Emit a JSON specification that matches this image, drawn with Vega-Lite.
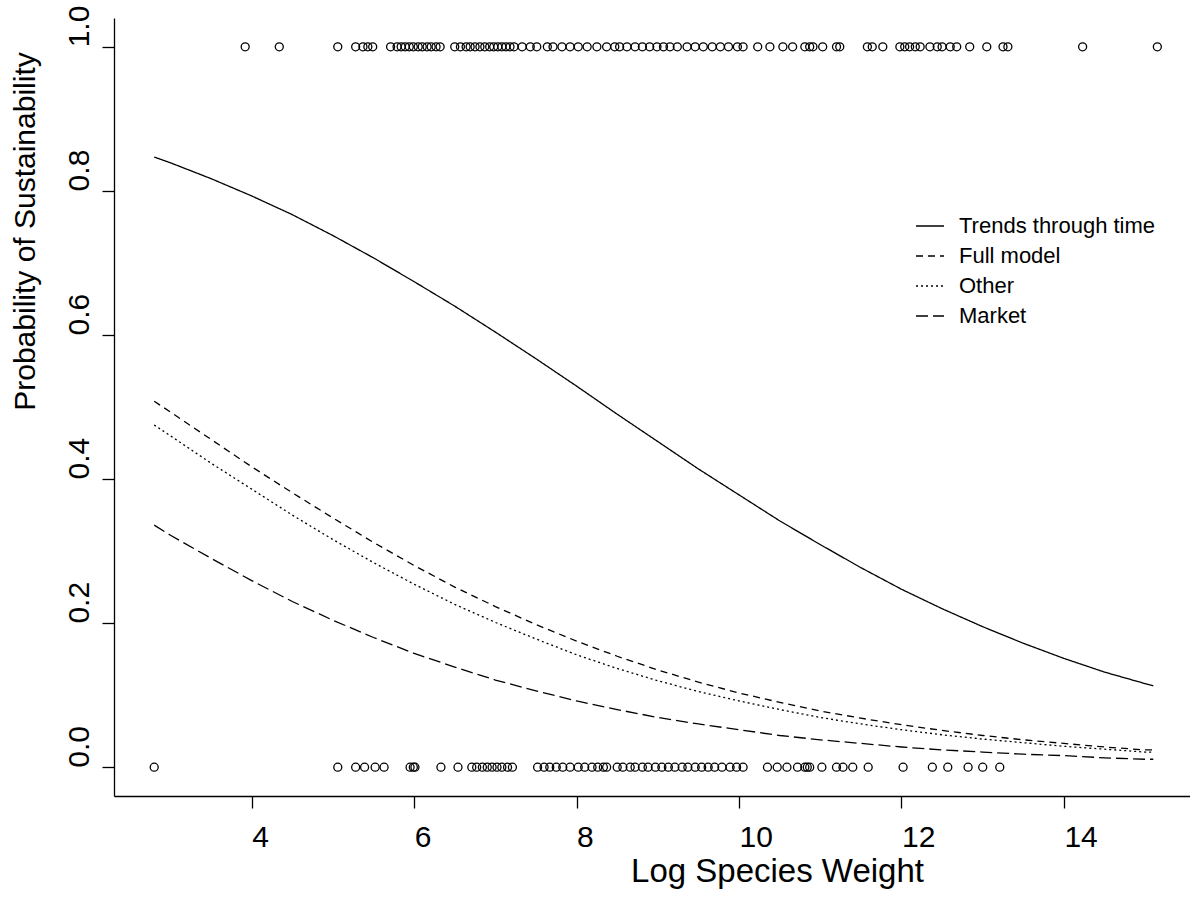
{
  "$schema": "https://vega.github.io/schema/vega-lite/v6.json",
  "width": 1076,
  "height": 778,
  "autosize": "none",
  "padding": {"left": 114, "top": 18, "right": 0, "bottom": 115},
  "background": "white",
  "config": {
    "view": {"stroke": null},
    "font": "Liberation Sans",
    "axis": {
      "domainColor": "black", "domainWidth": 1.3, "tickColor": "black", "tickWidth": 1.3, "tickSize": 12,
      "labelFont": "Liberation Sans", "labelFontSize": 30, "labelColor": "black",
      "titleFont": "Liberation Sans", "titleFontSize": 30, "titleFontWeight": "normal", "titleColor": "black",
      "grid": false, "labelFlush": false, "labelOverlap": false
    }
  },
  "datasets": {
    "obs": [
      {"weight": 3.92, "prob": 1}, {"weight": 4.34, "prob": 1}, {"weight": 5.06, "prob": 1}, {"weight": 5.28, "prob": 1}, {"weight": 5.37, "prob": 1}, {"weight": 5.43, "prob": 1}, {"weight": 5.49, "prob": 1}, {"weight": 5.71, "prob": 1}, {"weight": 5.79, "prob": 1}, {"weight": 5.84, "prob": 1}, {"weight": 5.89, "prob": 1}, {"weight": 5.94, "prob": 1}, {"weight": 5.99, "prob": 1}, {"weight": 6.05, "prob": 1}, {"weight": 6.10, "prob": 1}, {"weight": 6.16, "prob": 1}, {"weight": 6.21, "prob": 1}, {"weight": 6.27, "prob": 1}, {"weight": 6.32, "prob": 1}, {"weight": 6.50, "prob": 1}, {"weight": 6.57, "prob": 1}, {"weight": 6.64, "prob": 1}, {"weight": 6.69, "prob": 1}, {"weight": 6.75, "prob": 1}, {"weight": 6.81, "prob": 1}, {"weight": 6.87, "prob": 1}, {"weight": 6.93, "prob": 1}, {"weight": 6.98, "prob": 1}, {"weight": 7.03, "prob": 1}, {"weight": 7.08, "prob": 1}, {"weight": 7.13, "prob": 1}, {"weight": 7.18, "prob": 1}, {"weight": 7.23, "prob": 1}, {"weight": 7.33, "prob": 1}, {"weight": 7.43, "prob": 1}, {"weight": 7.51, "prob": 1}, {"weight": 7.64, "prob": 1}, {"weight": 7.71, "prob": 1}, {"weight": 7.82, "prob": 1}, {"weight": 7.92, "prob": 1}, {"weight": 8.02, "prob": 1}, {"weight": 8.13, "prob": 1}, {"weight": 8.25, "prob": 1}, {"weight": 8.37, "prob": 1}, {"weight": 8.47, "prob": 1}, {"weight": 8.53, "prob": 1}, {"weight": 8.62, "prob": 1}, {"weight": 8.72, "prob": 1}, {"weight": 8.81, "prob": 1}, {"weight": 8.90, "prob": 1}, {"weight": 8.99, "prob": 1}, {"weight": 9.07, "prob": 1}, {"weight": 9.15, "prob": 1}, {"weight": 9.24, "prob": 1}, {"weight": 9.36, "prob": 1}, {"weight": 9.46, "prob": 1}, {"weight": 9.56, "prob": 1}, {"weight": 9.67, "prob": 1}, {"weight": 9.77, "prob": 1}, {"weight": 9.87, "prob": 1}, {"weight": 9.98, "prob": 1}, {"weight": 10.05, "prob": 1}, {"weight": 10.23, "prob": 1}, {"weight": 10.38, "prob": 1}, {"weight": 10.54, "prob": 1}, {"weight": 10.66, "prob": 1}, {"weight": 10.81, "prob": 1}, {"weight": 10.87, "prob": 1}, {"weight": 10.91, "prob": 1}, {"weight": 11.03, "prob": 1}, {"weight": 11.20, "prob": 1}, {"weight": 11.24, "prob": 1}, {"weight": 11.58, "prob": 1}, {"weight": 11.64, "prob": 1}, {"weight": 11.77, "prob": 1}, {"weight": 11.98, "prob": 1}, {"weight": 12.04, "prob": 1}, {"weight": 12.10, "prob": 1}, {"weight": 12.17, "prob": 1}, {"weight": 12.23, "prob": 1}, {"weight": 12.35, "prob": 1}, {"weight": 12.44, "prob": 1}, {"weight": 12.50, "prob": 1}, {"weight": 12.60, "prob": 1}, {"weight": 12.68, "prob": 1}, {"weight": 12.84, "prob": 1}, {"weight": 13.05, "prob": 1}, {"weight": 13.25, "prob": 1}, {"weight": 13.31, "prob": 1}, {"weight": 14.23, "prob": 1}, {"weight": 15.15, "prob": 1},
      {"weight": 2.80, "prob": 0}, {"weight": 5.06, "prob": 0}, {"weight": 5.28, "prob": 0}, {"weight": 5.39, "prob": 0}, {"weight": 5.52, "prob": 0}, {"weight": 5.63, "prob": 0}, {"weight": 5.95, "prob": 0}, {"weight": 5.99, "prob": 0}, {"weight": 6.01, "prob": 0}, {"weight": 6.33, "prob": 0}, {"weight": 6.54, "prob": 0}, {"weight": 6.71, "prob": 0}, {"weight": 6.77, "prob": 0}, {"weight": 6.84, "prob": 0}, {"weight": 6.90, "prob": 0}, {"weight": 6.96, "prob": 0}, {"weight": 7.02, "prob": 0}, {"weight": 7.08, "prob": 0}, {"weight": 7.15, "prob": 0}, {"weight": 7.21, "prob": 0}, {"weight": 7.52, "prob": 0}, {"weight": 7.60, "prob": 0}, {"weight": 7.67, "prob": 0}, {"weight": 7.75, "prob": 0}, {"weight": 7.83, "prob": 0}, {"weight": 7.92, "prob": 0}, {"weight": 8.02, "prob": 0}, {"weight": 8.10, "prob": 0}, {"weight": 8.19, "prob": 0}, {"weight": 8.26, "prob": 0}, {"weight": 8.33, "prob": 0}, {"weight": 8.37, "prob": 0}, {"weight": 8.50, "prob": 0}, {"weight": 8.57, "prob": 0}, {"weight": 8.66, "prob": 0}, {"weight": 8.72, "prob": 0}, {"weight": 8.81, "prob": 0}, {"weight": 8.88, "prob": 0}, {"weight": 8.97, "prob": 0}, {"weight": 9.05, "prob": 0}, {"weight": 9.13, "prob": 0}, {"weight": 9.21, "prob": 0}, {"weight": 9.30, "prob": 0}, {"weight": 9.37, "prob": 0}, {"weight": 9.46, "prob": 0}, {"weight": 9.54, "prob": 0}, {"weight": 9.62, "prob": 0}, {"weight": 9.70, "prob": 0}, {"weight": 9.79, "prob": 0}, {"weight": 9.89, "prob": 0}, {"weight": 9.97, "prob": 0}, {"weight": 10.05, "prob": 0}, {"weight": 10.35, "prob": 0}, {"weight": 10.47, "prob": 0}, {"weight": 10.59, "prob": 0}, {"weight": 10.72, "prob": 0}, {"weight": 10.81, "prob": 0}, {"weight": 10.84, "prob": 0}, {"weight": 10.87, "prob": 0}, {"weight": 11.02, "prob": 0}, {"weight": 11.20, "prob": 0}, {"weight": 11.28, "prob": 0}, {"weight": 11.40, "prob": 0}, {"weight": 11.59, "prob": 0}, {"weight": 12.02, "prob": 0}, {"weight": 12.38, "prob": 0}, {"weight": 12.57, "prob": 0}, {"weight": 12.82, "prob": 0}, {"weight": 13.00, "prob": 0}, {"weight": 13.21, "prob": 0}
    ],
    "curves": [
      {"model": "Trends through time", "weight": 2.8, "prob": 0.847}, {"model": "Trends through time", "weight": 3, "prob": 0.839}, {"model": "Trends through time", "weight": 3.5, "prob": 0.817}, {"model": "Trends through time", "weight": 4, "prob": 0.793}, {"model": "Trends through time", "weight": 4.5, "prob": 0.767}, {"model": "Trends through time", "weight": 5, "prob": 0.738}, {"model": "Trends through time", "weight": 5.5, "prob": 0.707}, {"model": "Trends through time", "weight": 6, "prob": 0.674}, {"model": "Trends through time", "weight": 6.5, "prob": 0.640}, {"model": "Trends through time", "weight": 7, "prob": 0.604}, {"model": "Trends through time", "weight": 7.5, "prob": 0.567}, {"model": "Trends through time", "weight": 8, "prob": 0.529}, {"model": "Trends through time", "weight": 8.5, "prob": 0.490}, {"model": "Trends through time", "weight": 9, "prob": 0.452}, {"model": "Trends through time", "weight": 9.5, "prob": 0.414}, {"model": "Trends through time", "weight": 10, "prob": 0.378}, {"model": "Trends through time", "weight": 10.5, "prob": 0.342}, {"model": "Trends through time", "weight": 11, "prob": 0.309}, {"model": "Trends through time", "weight": 11.5, "prob": 0.277}, {"model": "Trends through time", "weight": 12, "prob": 0.247}, {"model": "Trends through time", "weight": 12.5, "prob": 0.220}, {"model": "Trends through time", "weight": 13, "prob": 0.195}, {"model": "Trends through time", "weight": 13.5, "prob": 0.172}, {"model": "Trends through time", "weight": 14, "prob": 0.151}, {"model": "Trends through time", "weight": 14.5, "prob": 0.132}, {"model": "Trends through time", "weight": 15, "prob": 0.116}, {"model": "Trends through time", "weight": 15.1, "prob": 0.113},
      {"model": "Full model", "weight": 2.8, "prob": 0.508}, {"model": "Full model", "weight": 3, "prob": 0.493}, {"model": "Full model", "weight": 3.5, "prob": 0.455}, {"model": "Full model", "weight": 4, "prob": 0.417}, {"model": "Full model", "weight": 4.5, "prob": 0.381}, {"model": "Full model", "weight": 5, "prob": 0.346}, {"model": "Full model", "weight": 5.5, "prob": 0.312}, {"model": "Full model", "weight": 6, "prob": 0.280}, {"model": "Full model", "weight": 6.5, "prob": 0.250}, {"model": "Full model", "weight": 7, "prob": 0.223}, {"model": "Full model", "weight": 7.5, "prob": 0.198}, {"model": "Full model", "weight": 8, "prob": 0.175}, {"model": "Full model", "weight": 8.5, "prob": 0.154}, {"model": "Full model", "weight": 9, "prob": 0.135}, {"model": "Full model", "weight": 9.5, "prob": 0.118}, {"model": "Full model", "weight": 10, "prob": 0.103}, {"model": "Full model", "weight": 10.5, "prob": 0.090}, {"model": "Full model", "weight": 11, "prob": 0.078}, {"model": "Full model", "weight": 11.5, "prob": 0.068}, {"model": "Full model", "weight": 12, "prob": 0.059}, {"model": "Full model", "weight": 12.5, "prob": 0.051}, {"model": "Full model", "weight": 13, "prob": 0.044}, {"model": "Full model", "weight": 13.5, "prob": 0.038}, {"model": "Full model", "weight": 14, "prob": 0.033}, {"model": "Full model", "weight": 14.5, "prob": 0.028}, {"model": "Full model", "weight": 15, "prob": 0.024}, {"model": "Full model", "weight": 15.1, "prob": 0.024},
      {"model": "Other", "weight": 2.8, "prob": 0.475}, {"model": "Other", "weight": 3, "prob": 0.460}, {"model": "Other", "weight": 3.5, "prob": 0.422}, {"model": "Other", "weight": 4, "prob": 0.386}, {"model": "Other", "weight": 4.5, "prob": 0.350}, {"model": "Other", "weight": 5, "prob": 0.316}, {"model": "Other", "weight": 5.5, "prob": 0.284}, {"model": "Other", "weight": 6, "prob": 0.254}, {"model": "Other", "weight": 6.5, "prob": 0.226}, {"model": "Other", "weight": 7, "prob": 0.201}, {"model": "Other", "weight": 7.5, "prob": 0.178}, {"model": "Other", "weight": 8, "prob": 0.156}, {"model": "Other", "weight": 8.5, "prob": 0.137}, {"model": "Other", "weight": 9, "prob": 0.120}, {"model": "Other", "weight": 9.5, "prob": 0.105}, {"model": "Other", "weight": 10, "prob": 0.092}, {"model": "Other", "weight": 10.5, "prob": 0.080}, {"model": "Other", "weight": 11, "prob": 0.069}, {"model": "Other", "weight": 11.5, "prob": 0.060}, {"model": "Other", "weight": 12, "prob": 0.052}, {"model": "Other", "weight": 12.5, "prob": 0.045}, {"model": "Other", "weight": 13, "prob": 0.039}, {"model": "Other", "weight": 13.5, "prob": 0.034}, {"model": "Other", "weight": 14, "prob": 0.029}, {"model": "Other", "weight": 14.5, "prob": 0.025}, {"model": "Other", "weight": 15, "prob": 0.021}, {"model": "Other", "weight": 15.1, "prob": 0.021},
      {"model": "Market", "weight": 2.8, "prob": 0.336}, {"model": "Market", "weight": 3, "prob": 0.322}, {"model": "Market", "weight": 3.5, "prob": 0.290}, {"model": "Market", "weight": 4, "prob": 0.259}, {"model": "Market", "weight": 4.5, "prob": 0.230}, {"model": "Market", "weight": 5, "prob": 0.204}, {"model": "Market", "weight": 5.5, "prob": 0.180}, {"model": "Market", "weight": 6, "prob": 0.158}, {"model": "Market", "weight": 6.5, "prob": 0.139}, {"model": "Market", "weight": 7, "prob": 0.121}, {"model": "Market", "weight": 7.5, "prob": 0.106}, {"model": "Market", "weight": 8, "prob": 0.092}, {"model": "Market", "weight": 8.5, "prob": 0.080}, {"model": "Market", "weight": 9, "prob": 0.069}, {"model": "Market", "weight": 9.5, "prob": 0.060}, {"model": "Market", "weight": 10, "prob": 0.052}, {"model": "Market", "weight": 10.5, "prob": 0.044}, {"model": "Market", "weight": 11, "prob": 0.038}, {"model": "Market", "weight": 11.5, "prob": 0.033}, {"model": "Market", "weight": 12, "prob": 0.028}, {"model": "Market", "weight": 12.5, "prob": 0.024}, {"model": "Market", "weight": 13, "prob": 0.021}, {"model": "Market", "weight": 13.5, "prob": 0.018}, {"model": "Market", "weight": 14, "prob": 0.016}, {"model": "Market", "weight": 14.5, "prob": 0.013}, {"model": "Market", "weight": 15, "prob": 0.011}, {"model": "Market", "weight": 15.1, "prob": 0.011}
    ]
  },
  "layer": [
    {
      "mark": {"type": "rule", "color": "black", "strokeWidth": 1.3},
      "encoding": {
        "y": {"datum": 1.04, "type": "quantitative",
          "scale": {"domain": [-0.04, 1.04], "nice": false, "zero": false},
          "axis": {"title": "Probability of Sustainability", "values": [0, 0.2, 0.4, 0.6, 0.8, 1], "format": ".1f", "labelAngle": -90, "labelAlign": "left", "labelBaseline": "alphabetic", "labelPadding": 14, "titleX": -89, "titleY": 213, "titleAngle": -90, "titleAlign": "center", "titleBaseline": "middle"}}
      }
    },
    {
      "data": {"name": "obs"},
      "mark": {"type": "point", "shape": "circle", "filled": false, "color": "black", "size": 64, "strokeWidth": 1.3, "opacity": 1},
      "encoding": {
        "x": {"field": "weight", "type": "quantitative",
          "scale": {"domain": [2.305, 15.552], "nice": false, "zero": false},
          "axis": {"title": "Log Species Weight", "titleFontSize": 33, "values": [4, 6, 8, 10, 12, 14], "labelAlign": "left", "labelBaseline": "top", "labelPadding": 14, "titleX": 663, "titleY": 75, "titleAlign": "center", "titleBaseline": "middle"}},
        "y": {"field": "prob", "type": "quantitative",
          "scale": {"domain": [-0.04, 1.04], "nice": false, "zero": false},
          "axis": {"title": "Probability of Sustainability", "values": [0, 0.2, 0.4, 0.6, 0.8, 1], "format": ".1f", "labelAngle": -90, "labelAlign": "left", "labelBaseline": "alphabetic", "labelPadding": 14, "titleX": -89, "titleY": 213, "titleAngle": -90, "titleAlign": "center", "titleBaseline": "middle"}}
      }
    },
    {
      "data": {"name": "curves"},
      "mark": {"type": "line", "color": "black", "strokeWidth": 1.3},
      "encoding": {
        "x": {"field": "weight", "type": "quantitative",
          "scale": {"domain": [2.305, 15.552], "nice": false, "zero": false},
          "axis": {"title": "Log Species Weight", "titleFontSize": 33, "values": [4, 6, 8, 10, 12, 14], "labelAlign": "left", "labelBaseline": "top", "labelPadding": 14, "titleX": 663, "titleY": 75, "titleAlign": "center", "titleBaseline": "middle"}},
        "y": {"field": "prob", "type": "quantitative",
          "scale": {"domain": [-0.04, 1.04], "nice": false, "zero": false},
          "axis": {"title": "Probability of Sustainability", "values": [0, 0.2, 0.4, 0.6, 0.8, 1], "format": ".1f", "labelAngle": -90, "labelAlign": "left", "labelBaseline": "alphabetic", "labelPadding": 14, "titleX": -89, "titleY": 213, "titleAngle": -90, "titleAlign": "center", "titleBaseline": "middle"}},
        "strokeDash": {"field": "model", "type": "nominal",
          "scale": {"domain": ["Trends through time", "Full model", "Other", "Market"], "range": [[1, 0], [7, 5], [2, 3], [12, 5]]},
          "legend": {"title": null, "orient": "none", "legendX": 805, "legendY": 197, "padding": 0,
            "symbolType": "M-3,0H3", "symbolSize": 87, "symbolStrokeWidth": 1.3, "symbolStrokeColor": "black", "symbolFillColor": "transparent",
            "labelFont": "Liberation Sans", "labelFontSize": 22, "labelColor": "black", "labelOffset": 18, "rowPadding": 8, "labelLimit": 400}}
      }
    }
  ]
}
